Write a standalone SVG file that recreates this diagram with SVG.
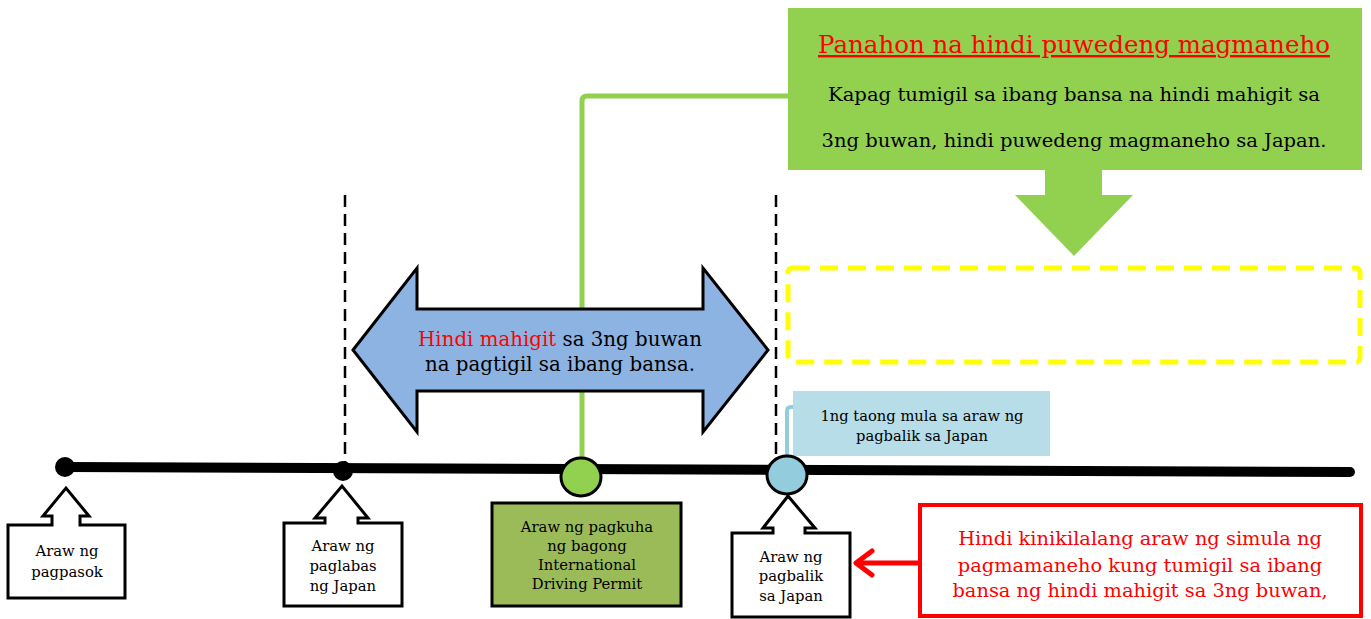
<svg xmlns="http://www.w3.org/2000/svg" width="1371" height="619" viewBox="0 0 1371 619">
<style>
text{font-family:"DejaVu Serif","Liberation Serif",serif;fill:#000;text-anchor:middle}
.sm{font-size:14.8px}
.md{font-size:14.7px}
.red{fill:#FF0000}
.callout{fill:#fff;stroke:#000;stroke-width:3;stroke-linejoin:miter}
.dash{stroke:#000;stroke-width:2.5;stroke-dasharray:12,7;fill:none}
</style>
<rect width="1371" height="619" fill="#fff"/>
<g id="connectors">
<line class="dash" x1="345" y1="195" x2="345" y2="470"/>
<line class="dash" x1="776" y1="195" x2="776" y2="466"/>
<path d="M582,458 V101 Q582,96 587,96 H790" fill="none" stroke="#92D050" stroke-width="5"/>
<path d="M787,458 V411 Q787,407 791,407 H795" fill="none" stroke="#93CDDD" stroke-width="4"/>
<line x1="65" y1="467" x2="1350" y2="472" stroke="#000" stroke-width="10" stroke-linecap="round"/>
<path d="M918,563 H858" stroke="#FF0000" stroke-width="5" fill="none"/>
<path d="M872,551 L856,563 L872,575" stroke="#FF0000" stroke-width="5" fill="none" stroke-linecap="round" stroke-linejoin="round"/>
</g>
<g id="top-note">
<rect x="788" y="8" width="574" height="162" fill="#92D050"/>
<text x="1074" y="53" class="red" font-size="24.5" text-decoration="underline">Panahon na hindi puwedeng magmaneho</text>
<text x="1074" y="101" font-size="18.5" textLength="492" lengthAdjust="spacingAndGlyphs">Kapag tumigil sa ibang bansa na hindi mahigit sa</text>
<text x="1074" y="147" font-size="18.5" textLength="505" lengthAdjust="spacingAndGlyphs">3ng buwan, hindi puwedeng magmaneho sa Japan.</text>
<polygon points="1045,170 1102,170 1102,195 1133,195 1074,256 1015,195 1045,195" fill="#92D050"/>
</g>
<g id="yellow-box">
<rect x="788" y="268" width="572" height="94" rx="4" fill="none" stroke="#FFFF00" stroke-width="5" stroke-dasharray="18,10"/>
</g>
<g id="double-arrow">
<polygon points="353,350 417,268 417,309 703,309 703,268 768,350 703,432 703,391 417,391 417,432" fill="#8DB3E2" stroke="#000" stroke-width="3" stroke-linejoin="miter"/>
<text x="560" y="346" font-size="19.8"><tspan class="red">Hindi mahigit</tspan> sa 3ng buwan</text>
<text x="560" y="371" font-size="19.8">na pagtigil sa ibang bansa.</text>
</g>
<g id="one-year">
<rect x="793" y="391" width="257" height="65" fill="#B7DDE8"/>
<text x="922" y="421" class="md">1ng taong mula sa araw ng</text>
<text x="922" y="441" class="md">pagbalik sa Japan</text>
</g>
<g id="dot-entry"><circle cx="65" cy="467" r="10" fill="#000"/></g>
<g id="dot-exit"><circle cx="343" cy="471" r="10" fill="#000"/></g>
<g id="dot-idp"><ellipse cx="581" cy="477" rx="20" ry="19" fill="#92D050" stroke="#000" stroke-width="3"/></g>
<g id="dot-return"><ellipse cx="787" cy="475" rx="20" ry="19" fill="#93CDDD" stroke="#000" stroke-width="3"/></g>
<g id="entry">
<polygon class="callout" points="8,525 52,525 52,516 43,516 66,488 89,516 80,516 80,525 125,525 125,598 8,598"/>
<text x="67" y="556" class="sm">Araw ng</text>
<text x="67" y="577" class="sm">pagpasok</text>
</g>
<g id="exit">
<polygon class="callout" points="284,523 325,523 325,518 315,518 342,486 368,518 358,518 358,523 402,523 402,606 284,606"/>
<text x="343" y="551" class="sm">Araw ng</text>
<text x="343" y="571" class="sm">paglabas</text>
<text x="343" y="591" class="sm">ng Japan</text>
</g>
<g id="idp">
<rect x="492" y="503" width="189" height="103" fill="#9BBB59" stroke="#000" stroke-width="3"/>
<text x="587" y="532" class="sm">Araw ng pagkuha</text>
<text x="587" y="551" class="sm">ng bagong</text>
<text x="587" y="570" class="sm">International</text>
<text x="587" y="589" class="sm">Driving Permit</text>
</g>
<g id="return">
<polygon class="callout" points="732,533 773,533 773,528 763,528 788,496 815,528 805,528 805,533 850,533 850,617 732,617"/>
<text x="791" y="562" class="sm">Araw ng</text>
<text x="791" y="581" class="sm">pagbalik</text>
<text x="791" y="601" class="sm">sa Japan</text>
</g>
<g id="red-note">
<rect x="920" y="505" width="441" height="111" fill="#fff" stroke="#FF0000" stroke-width="4"/>
<text x="1140" y="545" class="red" font-size="19.4">Hindi kinikilalang araw ng simula ng</text>
<text x="1140" y="572" class="red" font-size="19.4">pagmamaneho kung tumigil sa ibang</text>
<text x="1140" y="597" class="red" font-size="19.4">bansa ng hindi mahigit sa 3ng buwan,</text>
</g>
</svg>
